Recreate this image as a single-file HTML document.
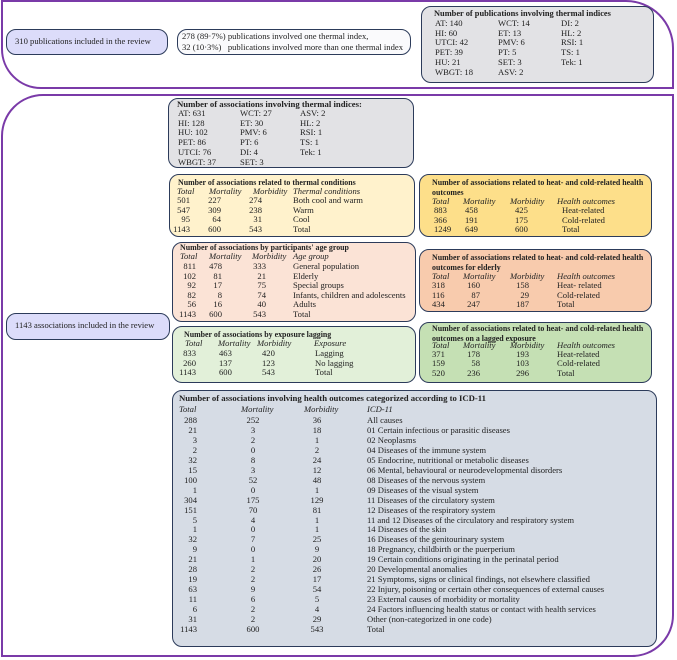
<!DOCTYPE html>
<html><head><meta charset="utf-8"><style>
*{margin:0;padding:0;box-sizing:border-box}
body{width:677px;height:660px;background:#fff;position:relative;overflow:hidden;font-family:"Liberation Serif",serif;color:#222}
.f{position:absolute;border:2px solid #7a3aa8}
.b{position:absolute;border:1.5px solid #2c3b5a;border-radius:10px}
.t{position:absolute;font-size:8.6px;line-height:9.7px;white-space:nowrap}
.h{font-weight:bold;font-size:8.7px}
.hs{font-weight:bold;font-size:7.9px}
.i{font-style:italic}
.r{text-align:right}.c{text-align:center}
</style></head><body>
<div class="f" style="left:1px;top:0;width:673px;height:89px;border-radius:0 48px 0 40px"></div>
<div class="f" style="left:1px;top:94px;width:673px;height:563px;border-radius:42px 0 42px 0"></div>

<div class="b" style="left:6px;top:29px;width:162px;height:26px;background:#dcdcfa"></div>
<div class="t" style="left:15px;top:37px">310 publications included in the review</div>
<div class="b" style="left:177px;top:29px;width:234px;height:26px;background:#fafafc"></div>
<div class="t" style="left:182px;top:31px;line-height:10.5px">278 (89·7%) publications involved one thermal index,<br>32 (10·3%)&nbsp;&nbsp; publications involved more than one thermal index</div>

<div class="b" style="left:421px;top:6px;width:233px;height:77px;background:#e2e2e5"></div>
<div class="t h" style="left:434px;top:9px;font-size:8.4px">Number of publications involving thermal indices</div>
<div class="t" style="left:435px;top:19px">AT: 140<br>HI: 60<br>UTCI: 42<br>PET: 39<br>HU: 21<br>WBGT: 18</div>
<div class="t" style="left:498px;top:19px">WCT: 14<br>ET: 13<br>PMV: 6<br>PT: 5<br>SET: 3<br>ASV: 2</div>
<div class="t" style="left:561px;top:19px">DI: 2<br>HL: 2<br>RSI: 1<br>TS: 1<br>Tek: 1</div>

<div class="b" style="left:168px;top:98px;width:246px;height:70px;background:#e2e2e5"></div>
<div class="t h" style="left:177px;top:100px">Number of associations involving thermal indices:</div>
<div class="t" style="left:178px;top:109px">AT: 631<br>HI: 128<br>HU: 102<br>PET: 86<br>UTCI: 76<br>WBGT: 37</div>
<div class="t" style="left:240px;top:109px">WCT: 27<br>ET: 30<br>PMV: 6<br>PT: 6<br>DI: 4<br>SET: 3</div>
<div class="t" style="left:300px;top:109px">ASV: 2<br>HL: 2<br>RSI: 1<br>TS: 1<br>Tek: 1</div>

<div class="b" style="left:169px;top:174px;width:246px;height:63px;background:#fff2cc"></div>
<div class="t hs" style="left:178px;top:178px">Number of associations related to thermal conditions</div>
<div class="t i" style="left:177px;top:187px">Total</div><div class="t i" style="left:209px;top:187px">Mortality</div><div class="t i" style="left:253px;top:187px">Morbidity</div><div class="t i" style="left:293px;top:187px">Thermal conditions</div>
<div class="t r" style="left:170px;width:20px;top:196px">501<br>547<br>95<br>1143</div>
<div class="t r" style="left:200px;width:21px;top:196px">227<br>309<br>64<br>600</div>
<div class="t r" style="left:240px;width:22px;top:196px">274<br>238<br>31<br>543</div>
<div class="t" style="left:293px;top:196px">Both cool and warm<br>Warm<br>Cool<br>Total</div>

<div class="b" style="left:419px;top:174px;width:233px;height:63px;background:#fddf8a"></div>
<div class="t hs" style="left:432px;top:178px;line-height:10px">Number of associations related to heat- and cold-related health<br>outcomes</div>
<div class="t i" style="left:432px;top:197px">Total</div><div class="t i" style="left:463px;top:197px">Mortality</div><div class="t i" style="left:510px;top:197px">Morbidity</div><div class="t i" style="left:557px;top:197px">Health outcomes</div>
<div class="t" style="left:434px;top:206px">883<br>366<br>1249</div>
<div class="t" style="left:465px;top:206px">458<br>191<br>649</div>
<div class="t" style="left:515px;top:206px">425<br>175<br>600</div>
<div class="t" style="left:562px;top:206px">Heat-related<br>Cold-related<br>Total</div>

<div class="b" style="left:172px;top:242px;width:244px;height:80px;background:#fbe3d6"></div>
<div class="t hs" style="left:180px;top:243px">Number of associations by participants' age group</div>
<div class="t i" style="left:180px;top:252px">Total</div><div class="t i" style="left:209px;top:252px">Mortality</div><div class="t i" style="left:252px;top:252px">Morbidity</div><div class="t i" style="left:293px;top:252px">Age group</div>
<div class="t r" style="left:170px;width:26px;top:262px;line-height:9.6px">811<br>102<br>92<br>82<br>56<br>1143</div>
<div class="t r" style="left:200px;width:22px;top:262px;line-height:9.6px">478<br>81<br>17<br>8<br>16<br>600</div>
<div class="t r" style="left:240px;width:26px;top:262px;line-height:9.6px">333<br>21<br>75<br>74<br>40<br>543</div>
<div class="t" style="left:293px;top:262px;line-height:9.6px">General population<br>Elderly<br>Special groups<br>Infants, children and adolescents<br>Adults<br>Total</div>

<div class="b" style="left:419px;top:249px;width:233px;height:63px;background:#f8cbad"></div>
<div class="t hs" style="left:432px;top:253px;line-height:10px">Number of associations related to heat- and cold-related health<br>outcomes for elderly</div>
<div class="t i" style="left:432px;top:272px">Total</div><div class="t i" style="left:463px;top:272px">Mortality</div><div class="t i" style="left:510px;top:272px">Morbidity</div><div class="t i" style="left:557px;top:272px">Health outcomes</div>
<div class="t" style="left:432px;top:281px">318<br>116<br>434</div>
<div class="t r" style="left:462px;width:18px;top:281px">160<br>87<br>247</div>
<div class="t r" style="left:510px;width:19px;top:281px">158<br>29<br>187</div>
<div class="t" style="left:557px;top:281px">Heat- related<br>Cold-related<br>Total</div>

<div class="b" style="left:6px;top:313px;width:164px;height:27px;background:#dcdcfa"></div>
<div class="t" style="left:15px;top:321px">1143 associations included in the review</div>

<div class="b" style="left:172px;top:326px;width:244px;height:57px;background:#e2f0d9"></div>
<div class="t hs" style="left:184px;top:330px">Number of associations by exposure lagging</div>
<div class="t i" style="left:185px;top:339px">Total</div><div class="t i" style="left:218px;top:339px">Mortality</div><div class="t i" style="left:257px;top:339px">Morbidity</div><div class="t i" style="left:314px;top:339px">Exposure</div>
<div class="t r" style="left:170px;width:26px;top:349px">833<br>260<br>1143</div>
<div class="t" style="left:219px;top:349px">463<br>137<br>600</div>
<div class="t" style="left:262px;top:349px">420<br>123<br>543</div>
<div class="t" style="left:315px;top:349px">Lagging<br>No lagging<br>Total</div>

<div class="b" style="left:419px;top:322px;width:233px;height:61px;background:#c5e0b4"></div>
<div class="t hs" style="left:432px;top:324px;line-height:10px">Number of associations related to heat- and cold-related health<br>outcomes on a lagged exposure</div>
<div class="t i" style="left:432px;top:341px">Total</div><div class="t i" style="left:463px;top:341px">Mortality</div><div class="t i" style="left:510px;top:341px">Morbidity</div><div class="t i" style="left:557px;top:341px">Health outcomes</div>
<div class="t" style="left:432px;top:350px;line-height:9.3px">371<br>159<br>520</div>
<div class="t r" style="left:462px;width:18px;top:350px;line-height:9.3px">178<br>58<br>236</div>
<div class="t r" style="left:510px;width:19px;top:350px;line-height:9.3px">193<br>103<br>296</div>
<div class="t" style="left:557px;top:350px;line-height:9.3px">Heat-related<br>Cold-related<br>Total</div>

<div class="b" style="left:172px;top:390px;width:485px;height:257px;background:#d6dce5"></div>
<div class="t h" style="left:179px;top:394px">Number of associations involving health outcomes categorized according to ICD-11</div>
<div class="t i" style="left:179px;top:405px">Total</div><div class="t i" style="left:241px;top:405px">Mortality</div><div class="t i" style="left:304px;top:405px">Morbidity</div><div class="t i" style="left:367px;top:405px">ICD-11</div>
<div class="t r" style="left:170px;width:27px;top:416px;line-height:9.95px">288<br>21<br>3<br>2<br>32<br>15<br>100<br>1<br>304<br>151<br>5<br>1<br>32<br>9<br>21<br>28<br>19<br>63<br>11<br>6<br>31<br>1143</div>
<div class="t c" style="left:228px;width:50px;top:416px;line-height:9.95px">252<br>3<br>2<br>0<br>8<br>3<br>52<br>0<br>175<br>70<br>4<br>0<br>7<br>0<br>1<br>2<br>2<br>9<br>6<br>2<br>2<br>600</div>
<div class="t c" style="left:292px;width:50px;top:416px;line-height:9.95px">36<br>18<br>1<br>2<br>24<br>12<br>48<br>1<br>129<br>81<br>1<br>1<br>25<br>9<br>20<br>26<br>17<br>54<br>5<br>4<br>29<br>543</div>
<div class="t" style="left:367px;top:416px;line-height:9.95px">All causes<br>01 Certain infectious or parasitic diseases<br>02 Neoplasms<br>04 Diseases of the immune system<br>05 Endocrine, nutritional or metabolic diseases<br>06 Mental, behavioural or neurodevelopmental disorders<br>08 Diseases of the nervous system<br>09 Diseases of the visual system<br>11 Diseases of the circulatory system<br>12 Diseases of the respiratory system<br>11 and 12 Diseases of the circulatory and respiratory system<br>14 Diseases of the skin<br>16 Diseases of the genitourinary system<br>18 Pregnancy, childbirth or the puerperium<br>19 Certain conditions originating in the perinatal period<br>20 Developmental anomalies<br>21 Symptoms, signs or clinical findings, not elsewhere classified<br>22 Injury, poisoning or certain other consequences of external causes<br>23 External causes of morbidity or mortality<br>24 Factors influencing health status or contact with health services<br>Other (non-categorized in one code)<br>Total</div>
</body></html>
